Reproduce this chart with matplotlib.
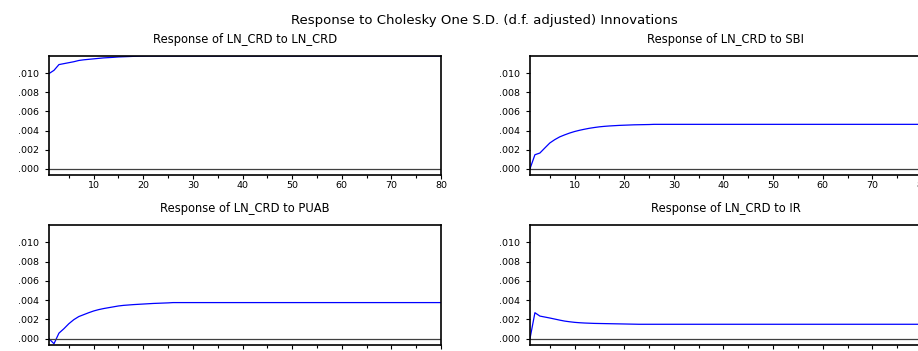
import matplotlib
matplotlib.use('Agg')
import matplotlib.pyplot as plt
from matplotlib.ticker import FuncFormatter, MultipleLocator

plt.rcParams['font.family'] = ['DejaVu Sans']

# impulse responses of LN_CRD, periods 1..80 (flat after period 25)
periods = list(range(1, 81))
resp_crd = [0.00996, 0.0103, 0.0109, 0.0110, 0.0111, 0.0112, 0.01133, 0.0114, 0.01145, 0.0115,
            0.01155, 0.0116, 0.01163, 0.01166, 0.0117, 0.01172, 0.01174, 0.01176, 0.01178, 0.01179,
            0.0118, 0.0118, 0.0118, 0.0118, 0.0118] + [0.0118] * 55
resp_sbi = [0.0, 0.00147, 0.00165, 0.00218, 0.0027, 0.00305, 0.00334, 0.00355, 0.00374, 0.0039,
            0.00403, 0.00414, 0.00424, 0.00432, 0.00439, 0.00444, 0.00448, 0.00451, 0.00454, 0.00456,
            0.00458, 0.0046, 0.00461, 0.00462, 0.00463] + [0.00465] * 55
resp_puab = [0.0, -0.00052, 0.00058, 0.00104, 0.00156, 0.00198, 0.0023, 0.0025, 0.0027, 0.00288,
             0.00302, 0.00313, 0.00322, 0.00331, 0.0034, 0.00346, 0.0035, 0.00354, 0.00357, 0.0036,
             0.00363, 0.00366, 0.00368, 0.0037, 0.00372] + [0.00375] * 55
resp_ir = [0.0, 0.0027, 0.00235, 0.00225, 0.00215, 0.00204, 0.00193, 0.00183, 0.00176, 0.0017,
           0.00166, 0.00163, 0.00161, 0.00159, 0.00158, 0.00157, 0.00156, 0.00155, 0.00154, 0.00153,
           0.00152, 0.00151, 0.0015, 0.0015, 0.0015] + [0.0015] * 55

titles = ['Response of LN_CRD to LN_CRD', 'Response of LN_CRD to SBI',
          'Response of LN_CRD to PUAB', 'Response of LN_CRD to IR']
series = [resp_crd, resp_sbi, resp_puab, resp_ir]
yticks = [0.0, 0.002, 0.004, 0.006, 0.008, 0.010]
xticks = [10, 20, 30, 40, 50, 60, 70, 80]

fig = plt.figure(figsize=(9.18, 3.51), dpi=100)
boxes = [[0.0534, 0.5014, 0.427, 0.3391], [0.5773, 0.5014, 0.427, 0.3391],
         [0.0534, 0.0171, 0.427, 0.3419], [0.5773, 0.0171, 0.427, 0.3419]]

fmt = FuncFormatter(lambda v, p: ('%.3f' % v).lstrip('0'))

for box, title, vals in zip(boxes, titles, series):
	ax = fig.add_axes(box)
	ax.plot(periods, vals, color='#0000ff', linewidth=0.9)
	ax.axhline(0, color='#404040', linewidth=0.9)
	ax.set_xlim(1, 80)
	ax.set_ylim(-0.00065, 0.0118)
	ax.set_xticks(xticks)
	ax.xaxis.set_minor_locator(MultipleLocator(5))
	ax.set_yticks(yticks)
	ax.yaxis.set_major_formatter(fmt)
	ax.tick_params(axis='x', direction='out', labelsize=6.8, width=0.8, length=3, pad=1)
	ax.tick_params(axis='y', direction='out', labelsize=6.8, width=0.8, length=3, pad=4)
	ax.tick_params(axis='x', which='minor', direction='out', length=2, width=0.8)
	for s in ax.spines.values():
		s.set_linewidth(1.2)
		s.set_color('black')
	ax.set_title(title, fontsize=8.3, pad=9)

fig.text(0.528, 0.943, 'Response to Cholesky One S.D. (d.f. adjusted) Innovations',
         ha='center', va='center', fontsize=9.5)

fig.savefig('out.png', dpi=100)
